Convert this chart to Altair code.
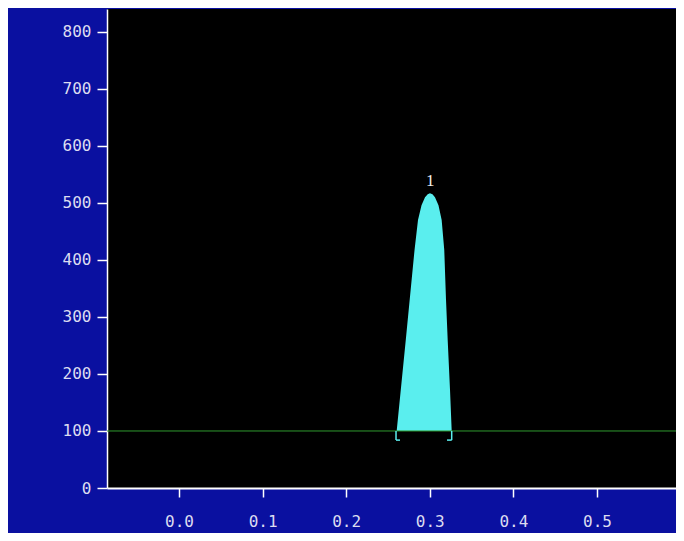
import altair as alt
import pandas as pd

# Peak profile (retention time, signal)
peak_x = [0.2604, 0.2713, 0.2818, 0.2859, 0.2901, 0.2943, 0.2975, 0.3002,
          0.3032, 0.3062, 0.3104, 0.3142, 0.3173, 0.3194, 0.3214, 0.3242, 0.3262]
peak_y = [100, 260, 418, 470, 496, 510, 515, 517,
          515, 510, 496, 470, 418, 330, 260, 172, 100]

baseline_value = 100
peak_label = "1"
peak_label_x = 0.3005
peak_label_y = 522

# integration markers (bracket segments)
br_x = [0.2596, 0.2596, 0.3262, 0.3206]
br_x2 = [0.2596, 0.2644, 0.3262, 0.3262]
br_y = [100, 84, 100, 84]
br_y2 = [84, 84, 84, 84]

x_ticks = [0.0, 0.1, 0.2, 0.3, 0.4, 0.5]
y_ticks = [0, 100, 200, 300, 400, 500, 600, 700, 800]
x_domain = [-0.0861, 0.5945]
y_domain = [0, 840]

peak_df = pd.DataFrame({"x": peak_x, "y": peak_y, "y0": [baseline_value] * len(peak_x)})
br_df = pd.DataFrame({"x": br_x, "x2": br_x2, "y": br_y, "y2": br_y2})
base_df = pd.DataFrame({"y": [baseline_value]})
lab_df = pd.DataFrame({"x": [peak_label_x], "y": [peak_label_y], "t": [peak_label]})

FONT = "DejaVu Sans Mono"
LBL = "#dcdcf0"

xscale = alt.Scale(domain=x_domain, nice=False, zero=False)
yscale = alt.Scale(domain=y_domain, nice=False)

xaxis = alt.Axis(values=x_ticks, format=".1f", title=None, grid=False,
                 tickSize=9, labelPadding=16, labelFont=FONT, labelFontSize=16,
                 labelColor=LBL, domainColor="white", tickColor="white",
                 domainWidth=2, tickWidth=1.5, labelFlush=False, labelOverlap=False)
yaxis = alt.Axis(values=y_ticks, title=None, grid=False,
                 tickSize=10, labelPadding=6, labelFont=FONT, labelFontSize=16,
                 labelColor=LBL, domainColor="white", tickColor="white",
                 domainWidth=1.5, tickWidth=1.5, labelFlush=False, labelOverlap=False)

area = alt.Chart(peak_df).mark_area(color="#5aeeee", opacity=1, interpolate="linear").encode(
    x=alt.X("x:Q", scale=xscale, axis=xaxis),
    y=alt.Y("y:Q", scale=yscale, axis=yaxis),
    y2="y0:Q",
)

baseline = alt.Chart(base_df).mark_rule(color="#2f9a2f", strokeWidth=1).encode(
    y=alt.Y("y:Q", scale=yscale),
)

brackets = alt.Chart(br_df).mark_rule(color="#5aeeee", strokeWidth=1.5).encode(
    x=alt.X("x:Q", scale=xscale), x2="x2:Q",
    y=alt.Y("y:Q", scale=yscale), y2="y2:Q",
)

label = alt.Chart(lab_df).mark_text(font="Liberation Serif", fontSize=17, color="#f0f0f0",
                                     baseline="bottom", align="center").encode(
    x=alt.X("x:Q", scale=xscale),
    y=alt.Y("y:Q", scale=yscale),
    text="t:N",
)

chart = alt.layer(area, baseline, brackets, label).properties(
    width=569, height=479,
    background="#0a10a0",
    autosize=alt.AutoSizeParams(type="none"),
    padding={"left": 99, "top": 1, "right": 0, "bottom": 45},
).configure_view(fill="black", stroke=None)

chart.save("out.html", embed_options={"renderer": "svg", "actions": False})
